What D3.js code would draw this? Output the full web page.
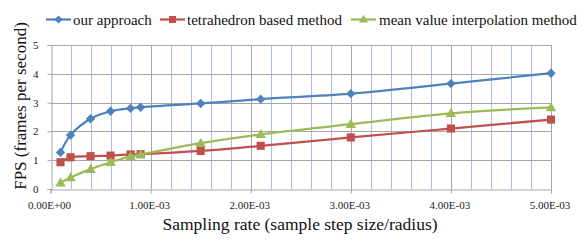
<!DOCTYPE html>
<html>
<head>
<meta charset="utf-8">
<script src="https://cdn.jsdelivr.net/npm/d3@7"></script>
<style>
  html, body { margin: 0; padding: 0; background: #fff; }
  svg { display: block; }
</style>
</head>
<body>
<script>
// ---- data ----
const xValues = [0.0001, 0.0002, 0.0004, 0.0006, 0.0008, 0.0009, 0.0015, 0.0021, 0.003, 0.004, 0.005];
const ourApproach = [1.27, 1.87, 2.44, 2.70, 2.80, 2.84, 2.97, 3.12, 3.31, 3.66, 4.02];
const tetrahedron = [0.93, 1.10, 1.14, 1.16, 1.20, 1.21, 1.32, 1.50, 1.79, 2.10, 2.41];
const meanValue   = [0.22, 0.40, 0.69, 0.93, 1.13, 1.20, 1.59, 1.90, 2.25, 2.63, 2.83];
const seriesNames = ["our approach", "tetrahedron based method", "mean value interpolation method"];
const xTickValues = [0, 0.001, 0.002, 0.003, 0.004, 0.005];
const xTickLabels = ["0.00E+00", "1.00E-03", "2.00E-03", "3.00E-03", "4.00E-03", "5.00E-03"];
const yTickValues = [0, 1, 2, 3, 4, 5];
const xTitle = "Sampling rate (sample step size/radius)";
const yTitle = "FPS (frames per second)";

// ---- layout ----
const W = 582, H = 240;
const FONT = "Liberation Serif";
const colors = ["#4F81BD", "#C0504D", "#9BBB59"];
const shapes = [d3.symbolSquare, d3.symbolSquare, d3.symbolTriangle];
const rotations = [45, 0, 0];
const symSizes = [44, 66, 48];
const symDy = [0, 0, 0.8];

const svg = d3.select("body").append("svg").attr("width", W).attr("height", H);

const x = d3.scaleLinear().domain([0, 0.005]).range([50.5, 551]);
const y = d3.scaleLinear().domain([0, 5]).range([189, 45]);

// minor vertical gridlines (blue)
const minor = d3.range(0, 0.00501, 0.0002).filter(v => Math.abs(v / 0.001 - Math.round(v / 0.001)) > 1e-6);
svg.append("g").selectAll("line").data(minor).join("line")
  .attr("x1", d => Math.round(x(d)) + 0.5).attr("x2", d => Math.round(x(d)) + 0.5)
  .attr("y1", y(5)).attr("y2", y(0))
  .attr("stroke", "#A3BFE3").attr("stroke-width", 1);

// major vertical gridlines (grey)
svg.append("g").selectAll("line").data(xTickValues.slice(1)).join("line")
  .attr("x1", d => Math.round(x(d)) + 0.5).attr("x2", d => Math.round(x(d)) + 0.5)
  .attr("y1", y(5)).attr("y2", y(0))
  .attr("stroke", "#A6A6A6").attr("stroke-width", 1);

// horizontal gridlines
svg.append("g").selectAll("line").data(yTickValues.slice(1)).join("line")
  .attr("x1", x(0)).attr("x2", x(0.005))
  .attr("y1", d => Math.round(y(d)) + 0.5).attr("y2", d => Math.round(y(d)) + 0.5)
  .attr("stroke", "#A6A6A6").attr("stroke-width", 1);

// axes
const yAxis = d3.axisLeft(y).tickValues(yTickValues).tickSize(4).tickPadding(9).tickFormat(d3.format("d"));
const gy = svg.append("g").attr("transform", `translate(${Math.round(x(0)) + 0.5},0)`).call(yAxis);
gy.select(".domain").attr("stroke", "#A6A6A6");
gy.selectAll(".tick line").attr("stroke", "#A6A6A6");
gy.selectAll(".tick text").style("font-family", FONT).style("font-size", "11px").attr("fill", "#222");

const xAxis = d3.axisBottom(x).tickValues(xTickValues).tickSize(4).tickPadding(8)
  .tickFormat((d, i) => xTickLabels[i]);
const gx = svg.append("g").attr("transform", `translate(0,${Math.round(y(0)) + 0.5})`).call(xAxis);
gx.select(".domain").attr("stroke", "#A6A6A6");
gx.selectAll(".tick line").attr("stroke", "#A6A6A6");
gx.selectAll(".tick text").style("font-family", FONT).style("font-size", "11px").attr("fill", "#222")
  .attr("dx", -1.5);

// series
const allSeries = [ourApproach, tetrahedron, meanValue];
const line = d3.line().x(d => x(d[0])).y(d => y(d[1])).curve(d3.curveCatmullRom.alpha(0.5));
allSeries.forEach((vals, i) => {
  const pts = xValues.map((xv, j) => [xv, vals[j]]);
  svg.append("path").datum(pts).attr("d", line)
    .attr("fill", "none").attr("stroke", colors[i]).attr("stroke-width", 2.25);
  svg.append("g").selectAll("path").data(pts).join("path")
    .attr("transform", d => `translate(${x(d[0])},${y(d[1]) + symDy[i]}) rotate(${rotations[i]})`)
    .attr("d", d3.symbol().type(shapes[i]).size(symSizes[i]))
    .attr("fill", colors[i]);
});

// legend
const legendItems = [
  { lx: 46, tx: 73 },
  { lx: 160, tx: 187 },
  { lx: 351, tx: 379 }
];
legendItems.forEach((it, i) => {
  svg.append("line").attr("x1", it.lx).attr("x2", it.lx + 25).attr("y1", 19.5).attr("y2", 19.5)
    .attr("stroke", colors[i]).attr("stroke-width", 2.25);
  svg.append("path").attr("transform", `translate(${it.lx + 12.5},${19.5 + symDy[i] * 0.5}) rotate(${rotations[i]})`)
    .attr("d", d3.symbol().type(shapes[i]).size(symSizes[i] * 0.75)).attr("fill", colors[i]);
  svg.append("text").attr("x", it.tx).attr("y", 24.5).style("font-family", FONT).style("font-size", "15px")
    .attr("fill", "#111").text(seriesNames[i]);
});

// titles
svg.append("text").attr("x", 300).attr("y", 230).attr("text-anchor", "middle")
  .style("font-family", FONT).style("font-size", "17.5px").attr("fill", "#111").text(xTitle);
svg.append("text").attr("transform", `translate(26,106) rotate(-90)`)
  .attr("text-anchor", "middle").style("font-family", FONT).style("font-size", "17px")
  .attr("fill", "#111").text(yTitle);
</script>
</body>
</html>
